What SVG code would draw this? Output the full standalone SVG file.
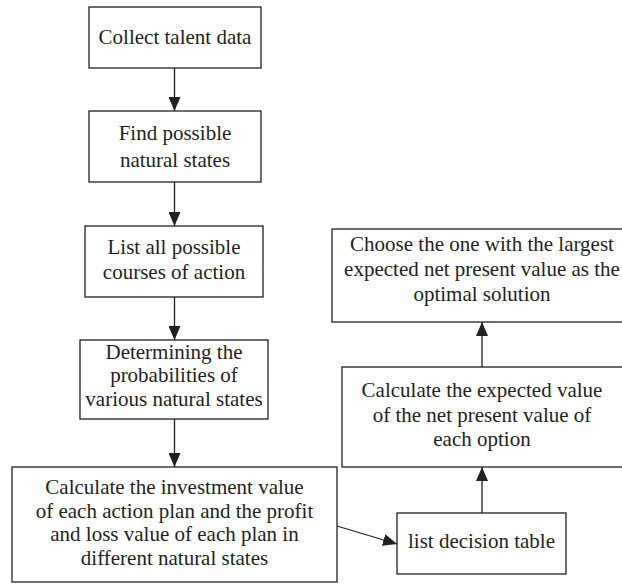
<svg xmlns="http://www.w3.org/2000/svg" width="622" height="584" viewBox="0 0 622 584">
<defs>
<marker id="ah" markerWidth="14" markerHeight="12" refX="14" refY="6" orient="auto" markerUnits="userSpaceOnUse">
<path d="M0,0 L14,6 L0,12 Z" fill="#231f20"/>
</marker>
<style>
.box{fill:#fff;stroke:#231f20;stroke-width:1.3}
.t{font-family:"Liberation Serif","Times New Roman",serif;font-size:21px;fill:#231f20;text-anchor:middle}
.c{stroke:#231f20;stroke-width:1.3;fill:none;marker-end:url(#ah)}
</style>
</defs>
<rect width="622" height="584" fill="#fff"/>
<g id="n1"><rect class="box" x="89" y="7" width="172" height="61"/><text class="t" x="175" y="44">Collect talent data</text></g>
<g id="n2"><rect class="box" x="89" y="111" width="172" height="71"/><text class="t" x="175" y="140">Find possible</text><text class="t" x="175" y="167">natural states</text></g>
<g id="n3"><rect class="box" x="85" y="226" width="178" height="71"/><text class="t" x="174" y="254">List all possible</text><text class="t" x="174" y="279">courses of action</text></g>
<g id="n4"><rect class="box" x="80" y="340" width="188" height="79"/><text class="t" x="174" y="359">Determining the</text><text class="t" x="174" y="382">probabilities of</text><text class="t" x="174" y="406">various natural states</text></g>
<g id="n5"><rect class="box" x="12" y="467" width="325" height="115"/><text class="t" x="174.5" y="494">Calculate the investment value</text><text class="t" x="174.5" y="518">of each action plan and the profit</text><text class="t" x="174.5" y="541">and loss value of each plan in</text><text class="t" x="174.5" y="565">different natural states</text></g>
<g id="n6"><rect class="box" x="397" y="513" width="169" height="61"/><text class="t" x="481.5" y="548">list decision table</text></g>
<g id="n7"><rect class="box" x="342" y="367" width="282" height="100"/><text class="t" x="482" y="397">Calculate the expected value</text><text class="t" x="482" y="422">of the net present value of</text><text class="t" x="482" y="446">each option</text></g>
<g id="n8"><rect class="box" x="332" y="229" width="300" height="93"/><text class="t" x="482" y="251">Choose the one with the largest</text><text class="t" x="482" y="276">expected net present value as the</text><text class="t" x="482" y="301">optimal solution</text></g>
<g id="connectors">
<line class="c" x1="174.5" y1="68" x2="174.5" y2="111"/>
<line class="c" x1="174.5" y1="182" x2="174.5" y2="226"/>
<line class="c" x1="174.5" y1="297" x2="174.5" y2="340"/>
<line class="c" x1="174.5" y1="419" x2="174.5" y2="467"/>
<line class="c" x1="337" y1="526" x2="397" y2="544"/>
<line class="c" x1="482" y1="513" x2="482" y2="467"/>
<line class="c" x1="482" y1="367" x2="482" y2="322"/>
</g>
</svg>
